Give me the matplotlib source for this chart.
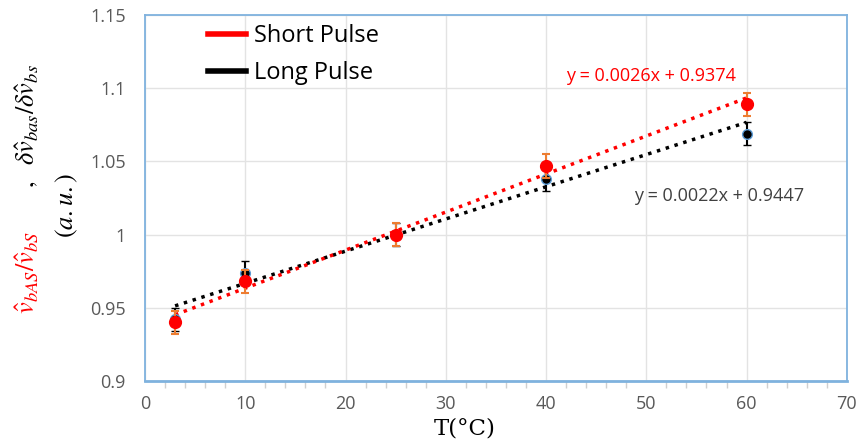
import matplotlib
matplotlib.use("Agg")
import numpy as np
import matplotlib.pyplot as plt
from matplotlib.ticker import MultipleLocator, FormatStrFormatter
from matplotlib.lines import Line2D

# temperature points (deg C)
temps = [3, 10, 25, 40, 60]

# normalised shifts for each pulse length
short_vals = [0.940, 0.968, 1.000, 1.047, 1.089]
long_vals = [0.942, 0.974, 1.000, 1.038, 1.069]
short_err = [0.008, 0.008, 0.008, 0.008, 0.008]
long_err = [0.008, 0.008, 0.008, 0.008, 0.008]

# linear trend lines
short_fit = (0.0026, 0.9374)
long_fit = (0.0022, 0.9447)

plt.rcParams["mathtext.fontset"] = "stix"
plt.rcParams["font.family"] = ["Open Sans", "DejaVu Sans"]
spine_col = "#7FB2DE"

fig = plt.figure(figsize=(8.58, 4.44), dpi=100)
ax = fig.add_axes([0.169, 0.142, 0.818, 0.824])

ax.set_xlim(0, 70)
ax.set_ylim(0.9, 1.15)
ax.xaxis.set_major_locator(MultipleLocator(10))
ax.xaxis.set_minor_locator(MultipleLocator(2))
ax.yaxis.set_major_locator(MultipleLocator(0.05))
ax.yaxis.set_major_formatter(FormatStrFormatter("%g"))
ax.grid(True, which="major", color="#e3e3e3", lw=1)
ax.set_axisbelow(True)

for s in ax.spines.values():
    s.set_color(spine_col)
    s.set_linewidth(1.3)
ax.spines["bottom"].set_linewidth(2)

ax.tick_params(axis="x", which="major", length=0, pad=10,
               labelsize=13, labelcolor="#595959")
ax.tick_params(axis="x", which="minor", length=5, direction="out",
               color="#d0d0d0", width=1)
ax.tick_params(axis="y", length=0, pad=14, labelsize=13, labelcolor="#595959")

# trend lines over the measured range
xf = np.array([temps[0], temps[-1]])
ax.plot(xf, long_fit[0] * xf + long_fit[1], ls=":", color="black", lw=2.5, zorder=2)
ax.plot(xf, short_fit[0] * xf + short_fit[1], ls=":", color="red", lw=2.5, zorder=3)

ax.errorbar(temps, long_vals, yerr=long_err, fmt="o", color="black", ms=7,
            mec="#5B9BD5", mew=1, ecolor="black", elinewidth=1.5, capsize=3,
            capthick=1.5, zorder=4)
ax.errorbar(temps, short_vals, yerr=short_err, fmt="o", color="red", ms=8.5,
            mec="red", ecolor="#ED7D31", elinewidth=1.5, capsize=3,
            capthick=1.5, zorder=5)

ax.text(50.45, 1.1083, "y = %.4fx + %.4f" % short_fit, color="red",
        fontsize=13, ha="center", va="center")
ax.text(57.3, 1.0264, "y = %.4fx + %.4f" % long_fit, color="#404040",
        fontsize=13, ha="center", va="center")

handles = [Line2D([], [], color="red", lw=4), Line2D([], [], color="black", lw=4)]
ax.legend(handles, ["Short Pulse", "Long Pulse"], loc="upper left",
          bbox_to_anchor=(0.09, 0.975), frameon=False, borderaxespad=0,
          borderpad=0, handlelength=1.6, handletextpad=0.35,
          labelspacing=0.55, prop={"size": 17})

# axis titles
fig.text(0.542, 0.035, "T(°C)", family="DejaVu Serif", fontsize=16.5,
         ha="center", va="center")
fig.text(0.032, 0.387, r"$\hat{v}_{bAS}/\hat{v}_{bS}$", color="red",
         fontsize=19, rotation=90, ha="center", va="center")
fig.text(0.032, 0.715, r"$,\ \ \delta\hat{v}_{bas}/\delta\hat{v}_{bs}$",
         color="black", fontsize=19, rotation=90, ha="center", va="center")
fig.text(0.078, 0.538, r"$(a.u.)$", color="black", fontsize=19,
         rotation=90, ha="center", va="center")

fig.savefig("out.png", dpi=100)
